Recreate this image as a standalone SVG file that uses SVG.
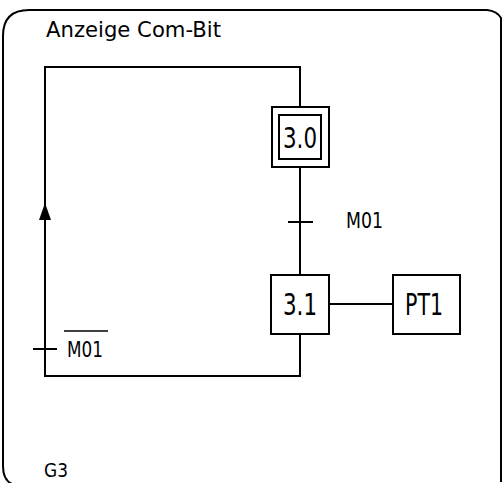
<svg xmlns="http://www.w3.org/2000/svg" width="502" height="483" viewBox="0 0 502 483">
<style>
.ln{fill:none;stroke:#000;stroke-width:2}
.bx{fill:#fff;stroke:#000;stroke-width:2}
.t{font-family:"DejaVu Sans Condensed","DejaVu Sans",sans-serif;fill:#000}
</style>
<rect width="502" height="483" fill="#fff"/>
<path id="frame" class="ln" d="M3,466 L3,36 Q3,10 29,10 L487,10 Q497,11 501,18 L501,482 M3,466 Q3,480 12,484"/>
<text class="t" x="46" y="37" font-size="21" textLength="175" lengthAdjust="spacingAndGlyphs">Anzeige Com-Bit</text>
<text class="t" x="44" y="477" font-size="20" textLength="24" lengthAdjust="spacingAndGlyphs">G3</text>
<g id="connectors">
<path class="ln" d="M300,107 L300,67 L45,67 L45,376 L300,376 L300,334"/>
<path class="ln" d="M300,167 L300,275"/>
<path class="ln" d="M329,304 L393,304"/>
<path class="ln" d="M288,222 L313,222"/>
<path class="ln" d="M33,349 L57,349"/>
<polygon points="45,203 39,220 51,220" fill="#000"/>
<text class="t" x="346" y="228" font-size="22" textLength="37" lengthAdjust="spacingAndGlyphs">M01</text>
<text class="t" x="67" y="357" font-size="22" textLength="36" lengthAdjust="spacingAndGlyphs">M01</text>
<path d="M64,331 L108,331" stroke="#000" stroke-width="1.5"/>
</g>
<g id="step30">
<rect class="bx" x="272" y="107" width="57" height="60"/>
<rect class="bx" x="279" y="115" width="42" height="44"/>
<text class="t" x="283" y="148" font-size="29" textLength="34" lengthAdjust="spacingAndGlyphs">3.0</text>
</g>
<g id="step31">
<rect class="bx" x="271" y="275" width="58" height="59"/>
<text class="t" x="283" y="315" font-size="31" textLength="34" lengthAdjust="spacingAndGlyphs">3.1</text>
</g>
<g id="pt1">
<rect class="bx" x="393" y="275" width="67" height="59"/>
<text class="t" x="405" y="315" font-size="31" textLength="38" lengthAdjust="spacingAndGlyphs">PT1</text>
</g>
</svg>
